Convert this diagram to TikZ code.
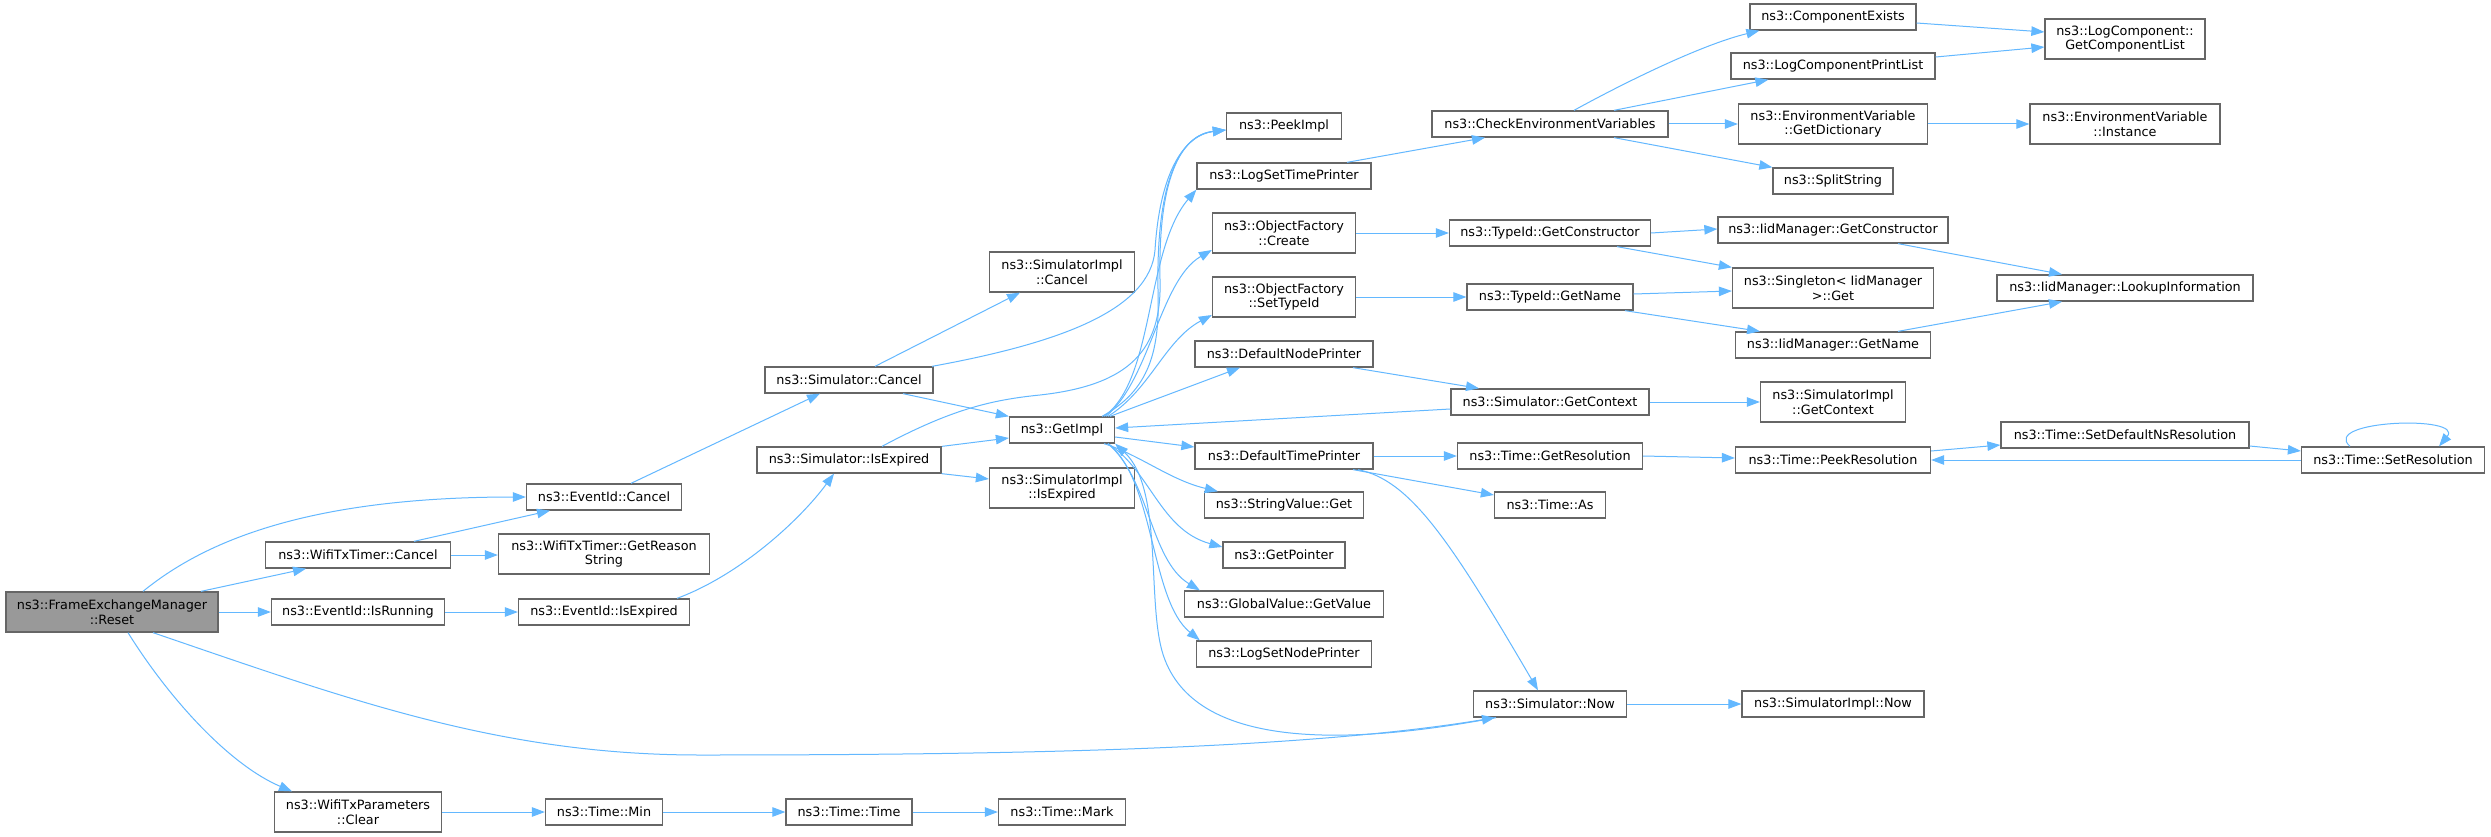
\documentclass[tikz,border=0pt]{standalone}
\usepackage{fontspec}
\setmainfont{DejaVu Sans}
\usetikzlibrary{arrows.meta}
\definecolor{edgeblue}{HTML}{63B8FF}
\definecolor{bordergray}{HTML}{666666}
\definecolor{rootgray}{HTML}{999999}
\newcommand\bx[6]{\node[box,minimum width=#4pt,minimum height=#5pt] (#1) at (#2,#3) {#6};}
\begin{document}
\begin{tikzpicture}[x=1pt,y=-1pt,
  box/.style={draw=bordergray,line width=1.3pt,fill=white,inner sep=0pt,align=center,font=\fontsize{12.8}{14.5}\selectfont},
  root/.style={box,fill=rootgray},
  edg/.style={draw=edgeblue,line width=1pt,-{Triangle[length=13pt,width=9.5pt]}}]
\path[use as bounding box,fill=white] (0,0) rectangle (2491,837);
% nodes
\node[root,minimum width=212pt,minimum height=40pt] (reset) at (112,612) {ns3::FrameExchangeManager\\::Reset};
\bx{evcancel}{604}{497}{155}{26}{ns3::EventId::Cancel}
\bx{wtcancel}{358}{555}{185}{26}{ns3::WifiTxTimer::Cancel}
\bx{reason}{604}{554}{211}{40}{ns3::WifiTxTimer::GetReason\\String}
\bx{isrunning}{358}{612}{173}{26}{ns3::EventId::IsRunning}
\bx{evexpired}{604}{612}{171}{26}{ns3::EventId::IsExpired}
\bx{clear}{358}{812}{167}{40}{ns3::WifiTxParameters\\::Clear}
\bx{tmin}{604}{812}{117}{26}{ns3::Time::Min}
\bx{ttime}{849}{812}{126}{26}{ns3::Time::Time}
\bx{tmark}{1062}{812}{127}{26}{ns3::Time::Mark}
\bx{simexp}{849}{460}{184}{26}{ns3::Simulator::IsExpired}
\bx{siexp}{1062}{488}{145}{40}{ns3::SimulatorImpl\\::IsExpired}
\bx{simcancel}{849}{380}{168}{26}{ns3::Simulator::Cancel}
\bx{sicancel}{1062}{272}{145}{40}{ns3::SimulatorImpl\\::Cancel}
\bx{getimpl}{1062}{430}{105}{26}{ns3::GetImpl}
\bx{peek}{1284}{126}{115}{26}{ns3::PeekImpl}
\bx{logtime}{1284}{176}{174}{26}{ns3::LogSetTimePrinter}
\bx{ofcreate}{1284}{233}{143}{40}{ns3::ObjectFactory\\::Create}
\bx{ofset}{1284}{297}{143}{40}{ns3::ObjectFactory\\::SetTypeId}
\bx{dnp}{1284}{354}{178}{26}{ns3::DefaultNodePrinter}
\bx{dtp}{1284}{456}{178}{26}{ns3::DefaultTimePrinter}
\bx{strget}{1284}{505}{159}{26}{ns3::StringValue::Get}
\bx{getptr}{1284}{555}{122}{26}{ns3::GetPointer}
\bx{gvget}{1284}{604}{199}{26}{ns3::GlobalValue::GetValue}
\bx{lognode}{1284}{654}{175}{26}{ns3::LogSetNodePrinter}
\bx{checkenv}{1550}{124}{236}{26}{ns3::CheckEnvironmentVariables}
\bx{tgc}{1550}{233}{201}{26}{ns3::TypeId::GetConstructor}
\bx{tgn}{1550}{297}{166}{26}{ns3::TypeId::GetName}
\bx{sgc}{1550}{402}{198}{26}{ns3::Simulator::GetContext}
\bx{tgr}{1550}{456}{185}{26}{ns3::Time::GetResolution}
\bx{tas}{1550}{505}{111}{26}{ns3::Time::As}
\bx{snow}{1550}{704}{153}{26}{ns3::Simulator::Now}
\bx{compex}{1833}{17}{166}{26}{ns3::ComponentExists}
\bx{lcpl}{1833}{66}{204}{26}{ns3::LogComponentPrintList}
\bx{getdict}{1833}{124}{189}{40}{ns3::EnvironmentVariable\\::GetDictionary}
\bx{split}{1833}{181}{120}{26}{ns3::SplitString}
\bx{iidgc}{1833}{230}{230}{26}{ns3::IidManager::GetConstructor}
\bx{single}{1833}{288}{201}{40}{ns3::Singleton< IidManager\\ >::Get}
\bx{iidgn}{1833}{345}{195}{26}{ns3::IidManager::GetName}
\bx{sigc}{1833}{402}{145}{40}{ns3::SimulatorImpl\\::GetContext}
\bx{tpr}{1833}{460}{195}{26}{ns3::Time::PeekResolution}
\bx{sinow}{1833}{704}{182}{26}{ns3::SimulatorImpl::Now}
\bx{gcl}{2125}{39}{160}{40}{ns3::LogComponent::\\GetComponentList}
\bx{inst}{2125}{124}{190}{40}{ns3::EnvironmentVariable\\::Instance}
\bx{lookup}{2125}{288}{256}{26}{ns3::IidManager::LookupInformation}
\bx{setdef}{2125}{435}{248}{26}{ns3::Time::SetDefaultNsResolution}
\bx{setres}{2393}{460}{183}{26}{ns3::Time::SetResolution}
% edges
\draw[edg] ([xshift=31pt]reset.north) .. controls (200,545) and (300,497) .. (evcancel.west);
\draw[edg] ([xshift=89pt]reset.north) -- ([xshift=-52pt]wtcancel.south);
\draw[edg] (reset.east) -- (isrunning.west);
\draw[edg] ([xshift=41pt]reset.south) .. controls (350,700) and (500,755) .. (700,755) .. controls (1000,755) and (1300,750) .. ([xshift=-55pt]snow.south);
\draw[edg] ([xshift=16pt]reset.south) .. controls (170,700) and (230,765) .. ([xshift=-66pt]clear.north);
\draw[edg] ([xshift=56pt]wtcancel.north) -- ([xshift=-54pt]evcancel.south);
\draw[edg] (wtcancel.east) -- (wtcancel.east -| reason.west);
\draw[edg] (isrunning.east) -- (evexpired.west);
\draw[edg] (clear.east) -- (tmin.west);
\draw[edg] (tmin.east) -- (ttime.west);
\draw[edg] (ttime.east) -- (tmark.west);
\draw[edg] ([xshift=27pt]evcancel.north) -- ([xshift=-29pt]simcancel.south);
\draw[edg] ([xshift=73pt]evexpired.north) .. controls (740,575) and (800,520) .. ([xshift=-15pt]simexp.south);
\draw[edg] ([xshift=26pt]simcancel.north) -- ([xshift=-42pt]sicancel.south);
\draw[edg] ([xshift=83pt]simcancel.north) .. controls (1060,343) and (1150,310) .. (1155,250) .. controls (1160,170) and (1185,135) .. ([yshift=-4pt]peek.west);
\draw[edg] ([xshift=54pt]simcancel.south) -- (getimpl.north west);
\draw[edg] ([xshift=93pt]simexp.north) -- ([yshift=-8pt]getimpl.west);
\draw[edg] (simexp.south east) -- ([yshift=9pt]siexp.west);
\draw[edg] ([xshift=33pt]simexp.north) .. controls (950,410) and (990,400) .. (1040,395) .. controls (1130,385) and (1162,350) .. (1160,280) .. controls (1158,180) and (1180,135) .. ([yshift=-4pt]peek.west);
\draw[edg] ([xshift=40pt]getimpl.north) .. controls (1150,390) and (1160,350) .. (1158,290) .. controls (1156,180) and (1180,135) .. ([yshift=-4pt]peek.west);
\draw[edg] ([xshift=42pt]getimpl.north) .. controls (1155,380) and (1145,250) .. (logtime.south west);
\draw[edg] ([xshift=44pt]getimpl.north) .. controls (1150,380) and (1160,280) .. ([yshift=-17pt]ofcreate.west);
\draw[edg] ([xshift=46pt]getimpl.north) .. controls (1150,390) and (1165,340) .. ([yshift=-18pt]ofset.west);
\draw[edg] ([xshift=48pt]getimpl.north) -- ([xshift=-44pt]dnp.south);
\draw[edg] ([yshift=-7pt]getimpl.east) -- ([yshift=9pt]dtp.west);
\draw[edg] ([xshift=42pt]getimpl.south) .. controls (1140,455) and (1170,480) .. ([xshift=14pt]strget.north west);
\draw[edg] ([xshift=46pt]getimpl.south) .. controls (1150,470) and (1160,530) .. ([yshift=8pt]getptr.west);
\draw[edg] ([xshift=46pt]getimpl.south) .. controls (1150,480) and (1150,560) .. ([xshift=16pt]gvget.north west);
\draw[edg] ([xshift=46pt]getimpl.south) .. controls (1155,480) and (1150,600) .. ([xshift=4pt]lognode.north west);
\draw[edg] ([yshift=-7pt]sgc.west) -- ([yshift=2pt]getimpl.east);
\draw[edg] ([xshift=-54pt]snow.south) .. controls (1350,745) and (1200,750) .. (1165,660) .. controls (1145,610) and (1165,490) .. (getimpl.south east);
\draw[edg] ([xshift=69pt]dnp.south) -- ([xshift=-71pt]sgc.north);
\draw[edg] (dtp.east) -- (tgr.west);
\draw[edg] ([xshift=69pt]dtp.south) -- ([yshift=10pt]tas.west);
\draw[edg] ([xshift=74pt]dtp.south) .. controls (1410,480) and (1450,540) .. ([xshift=-12pt]snow.north);
\draw[edg] (sgc.east) -- (sigc.west);
\draw[edg] (snow.east) -- (sinow.west);
\draw[edg] (tgr.east) -- ([yshift=2pt]tpr.west);
\draw[edg] ([yshift=9pt]tpr.east) -- ([yshift=-10pt]setdef.west);
\draw[edg] ([yshift=-11pt]setdef.east) -- ([yshift=9pt]setres.west);
\draw[edg] (setres.west) -- (tpr.east);
\draw[edg] ([xshift=-43pt]setres.north) .. controls (2320,420) and (2465,415) .. ([xshift=46pt]setres.north);
\draw[edg] ([xshift=63pt]logtime.north) -- ([xshift=-65pt]checkenv.south);
\draw[edg] ([xshift=24pt]checkenv.north) .. controls (1620,85) and (1700,45) .. ([xshift=10pt]compex.south west);
\draw[edg] ([xshift=64pt]checkenv.north) -- ([xshift=38pt]lcpl.south west);
\draw[edg] (checkenv.east) -- (getdict.west);
\draw[edg] ([xshift=64pt]checkenv.south) -- (split.north west);
\draw[edg] ([yshift=-6pt]compex.east) -- ([yshift=7pt]gcl.west);
\draw[edg] ([yshift=9pt]lcpl.east) -- ([yshift=-8pt]gcl.west);
\draw[edg] (getdict.east) -- (inst.west);
\draw[edg] (ofcreate.east) -- (tgc.west);
\draw[edg] (ofset.east) -- (tgn.west);
\draw[edg] (tgc.east) -- ([yshift=1pt]iidgc.west);
\draw[edg] ([xshift=67pt]tgc.south) -- (single.north west);
\draw[edg] ([yshift=3pt]tgn.east) -- ([yshift=-3pt]single.west);
\draw[edg] ([xshift=75pt]tgn.south) -- ([xshift=-73pt]iidgn.north);
\draw[edg] ([xshift=65pt]iidgc.south) -- ([xshift=-63pt]lookup.north);
\draw[edg] ([xshift=65pt]iidgn.north) -- ([xshift=-63pt]lookup.south);
\end{tikzpicture}
\end{document}
